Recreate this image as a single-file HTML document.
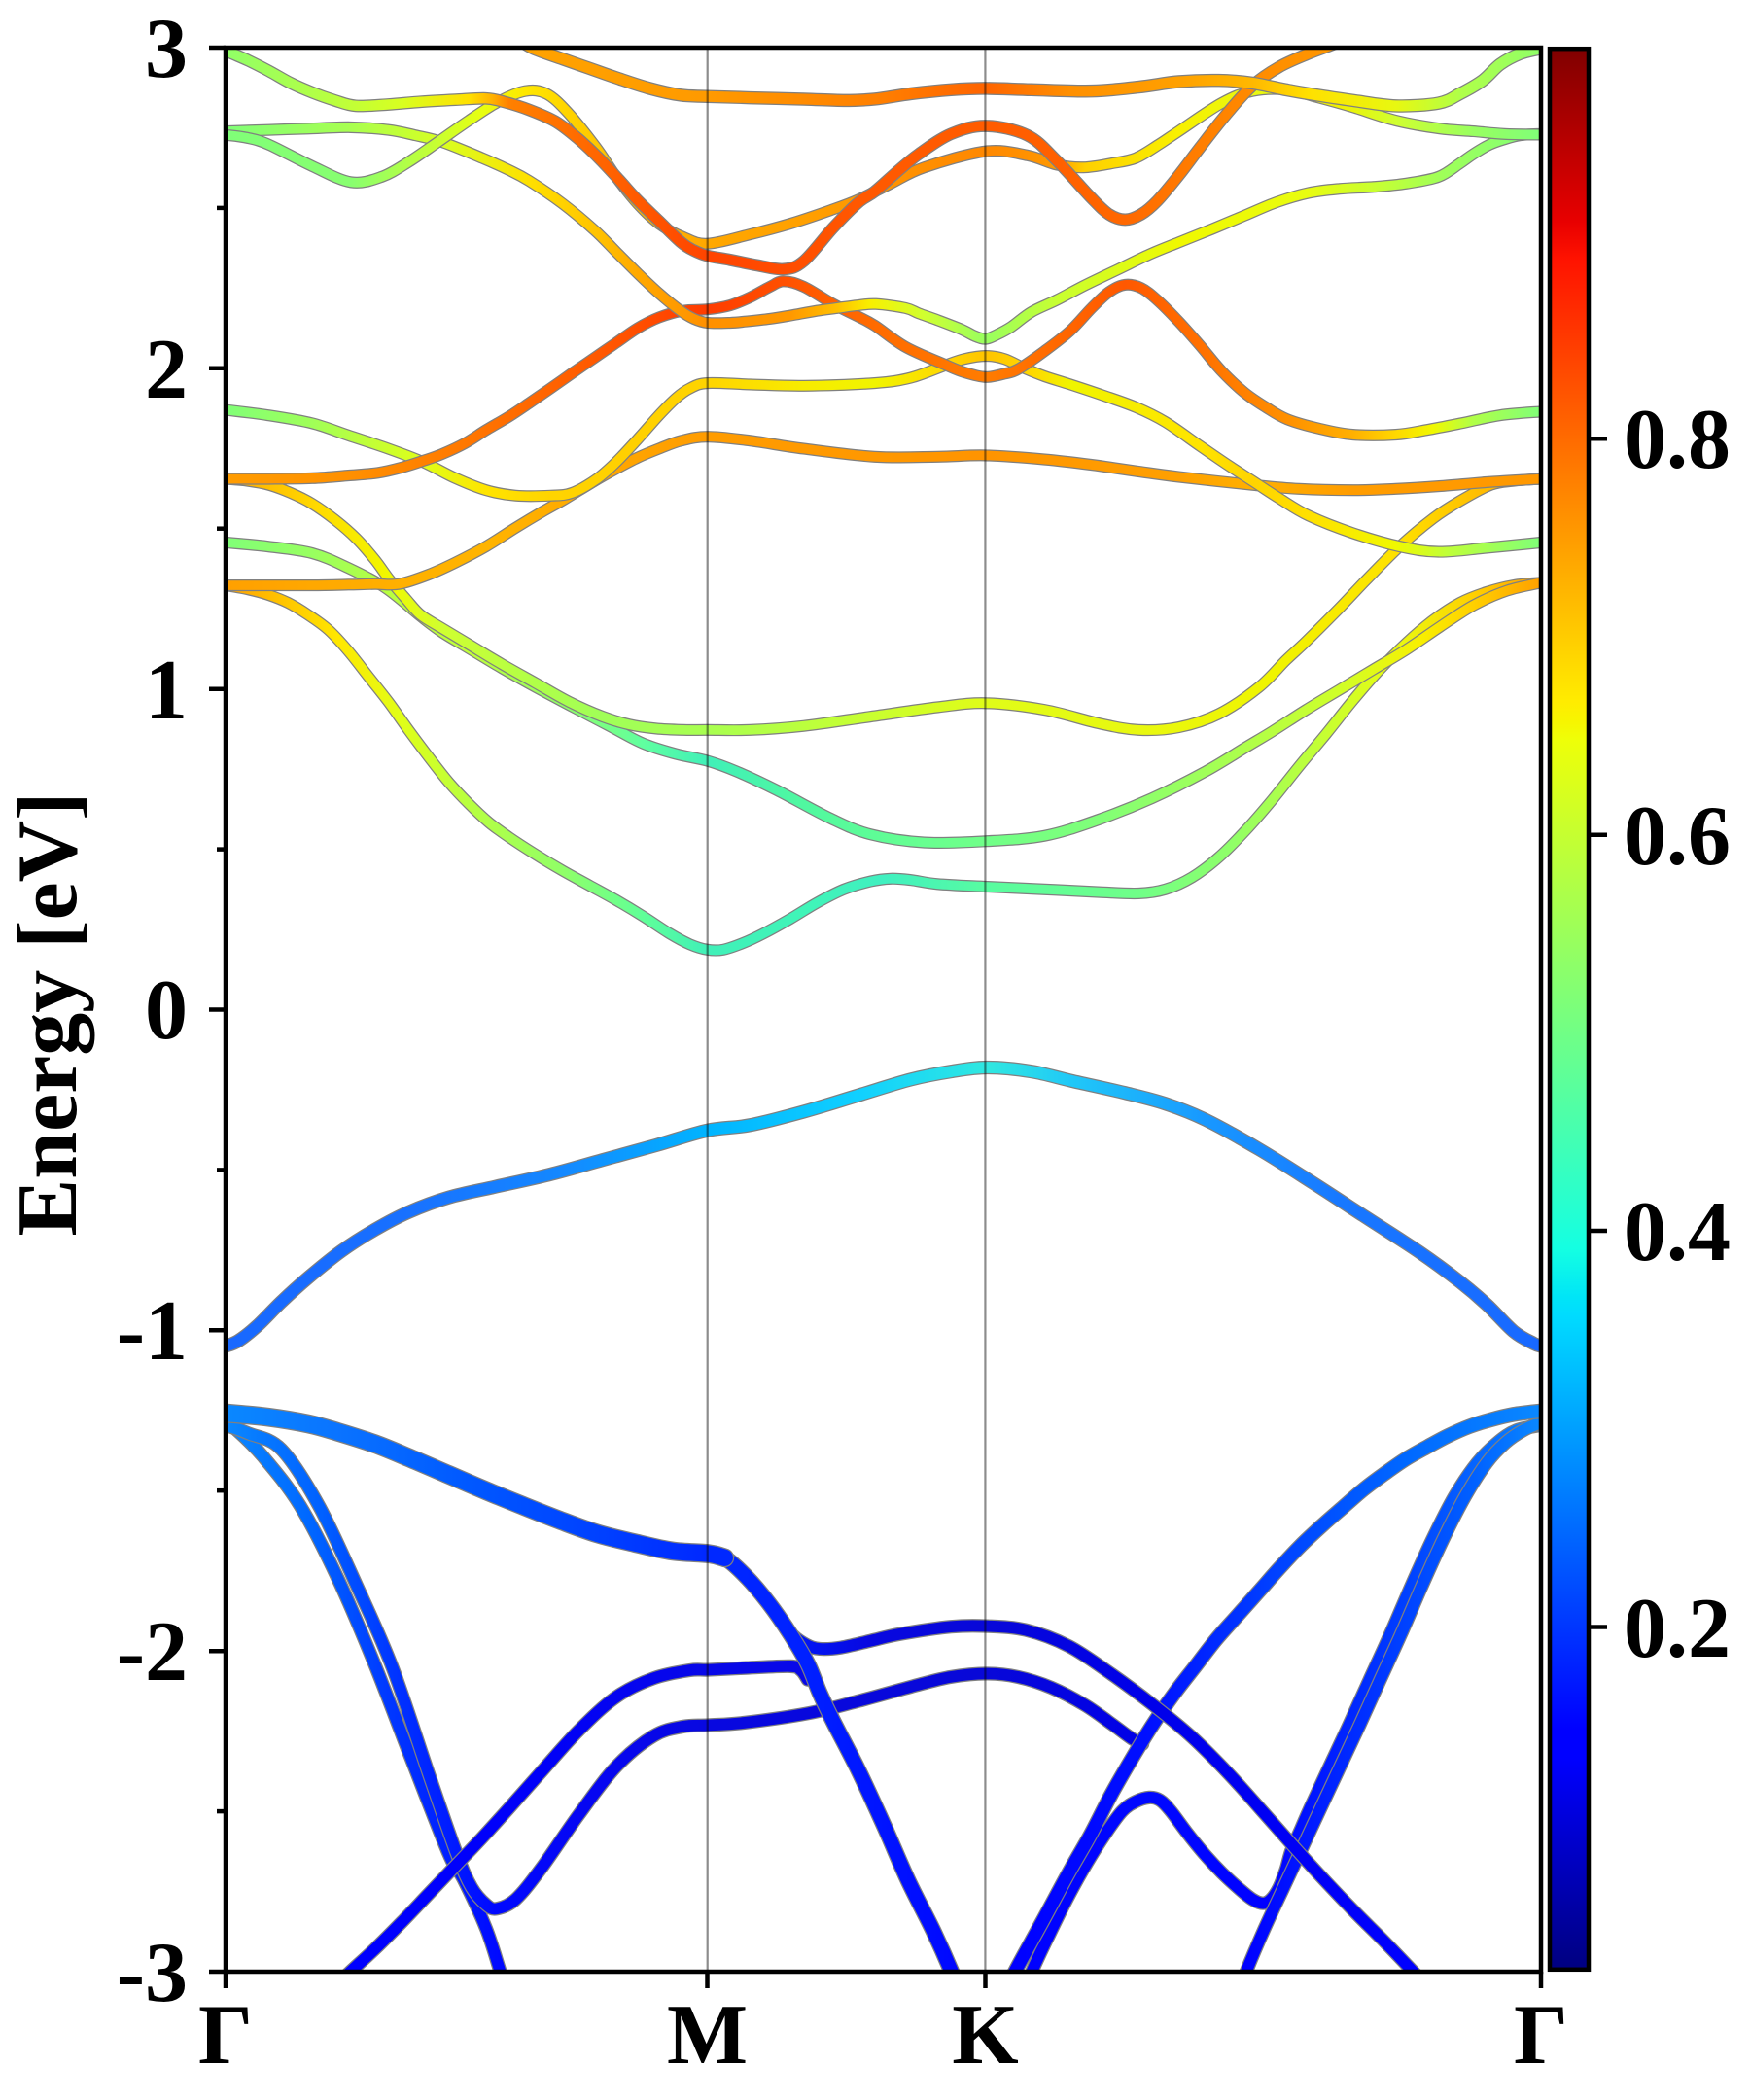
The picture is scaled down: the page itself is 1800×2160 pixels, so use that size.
<!DOCTYPE html>
<html><head><meta charset="utf-8">
<style>
html,body{margin:0;padding:0;background:#fff;}
svg{display:block;}
text{font-family:"Liberation Serif","Times New Roman",serif;font-weight:bold;fill:#000;}
</style></head>
<body>
<svg id="s" xmlns="http://www.w3.org/2000/svg" width="1800" height="2160" viewBox="0 0 1800 2160">
<defs id="defs">
<linearGradient id="jet" x1="0" y1="1" x2="0" y2="0">
<stop offset="0" stop-color="#000080"/>
<stop offset="0.11" stop-color="#0000ff"/>
<stop offset="0.125" stop-color="#0000ff"/>
<stop offset="0.34" stop-color="#00dbff"/>
<stop offset="0.35" stop-color="#00e5f7"/>
<stop offset="0.375" stop-color="#14ffe2"/>
<stop offset="0.64" stop-color="#eeff08"/>
<stop offset="0.65" stop-color="#f7f500"/>
<stop offset="0.66" stop-color="#ffec00"/>
<stop offset="0.89" stop-color="#ff1300"/>
<stop offset="0.91" stop-color="#e80000"/>
<stop offset="1" stop-color="#800000"/>
</linearGradient>
<clipPath id="cp"><rect x="168.4" y="35.6" width="982.1" height="1436.4"/></clipPath>
</defs>
<rect x="0" y="0" width="1800" height="2160" fill="#fff"/>
<g id="plot" transform="scale(1.3777)" clip-path="url(#cp)"></g>
<g transform="scale(1.3777)">
<line x1="528.2" y1="35.6" x2="528.2" y2="1472" stroke="#000" stroke-opacity="0.45" stroke-width="1.6"/>
<line x1="735.6" y1="35.6" x2="735.6" y2="1472" stroke="#000" stroke-opacity="0.45" stroke-width="1.6"/>
</g>
<rect x="232" y="49" width="1353" height="1979" fill="none" stroke="#000" stroke-width="4.5"/>
<g stroke="#000" stroke-width="4.5">
<line x1="215" y1="49" x2="232" y2="49"/>
<line x1="215" y1="378.8" x2="232" y2="378.8"/>
<line x1="215" y1="708.7" x2="232" y2="708.7"/>
<line x1="215" y1="1038.5" x2="232" y2="1038.5"/>
<line x1="215" y1="1368.3" x2="232" y2="1368.3"/>
<line x1="215" y1="1698.2" x2="232" y2="1698.2"/>
<line x1="215" y1="2028" x2="232" y2="2028"/>
<line x1="223" y1="213.9" x2="232" y2="213.9"/>
<line x1="223" y1="543.7" x2="232" y2="543.7"/>
<line x1="223" y1="873.6" x2="232" y2="873.6"/>
<line x1="223" y1="1203.4" x2="232" y2="1203.4"/>
<line x1="223" y1="1533.2" x2="232" y2="1533.2"/>
<line x1="223" y1="1863.1" x2="232" y2="1863.1"/>
<line x1="232" y1="2028" x2="232" y2="2045"/>
<line x1="727.5" y1="2028" x2="727.5" y2="2045"/>
<line x1="1013.5" y1="2028" x2="1013.5" y2="2045"/>
<line x1="1585" y1="2028" x2="1585" y2="2045"/>
</g>
<g font-size="88" text-anchor="end" font-family="Liberation Serif, Times New Roman, serif" font-weight="bold">
<text x="193" y="79">3</text>
<text x="193" y="409">2</text>
<text x="193" y="739">1</text>
<text x="193" y="1068">0</text>
<text x="193" y="1398">-1</text>
<text x="193" y="1728">-2</text>
<text x="193" y="2058">-3</text>
</g>
<g font-size="88" text-anchor="middle" font-family="Liberation Serif, Times New Roman, serif" font-weight="bold">
<text x="232" y="2122">Γ</text>
<text x="727.5" y="2122">M</text>
<text x="1013.5" y="2122">K</text>
<text x="1585" y="2122">Γ</text>
</g>
<text font-size="88" text-anchor="middle" font-family="Liberation Serif, Times New Roman, serif" font-weight="bold" transform="translate(78,1043) rotate(-90)">Energy [eV]</text>
<rect x="1594" y="50.2" width="40" height="1975.6" fill="url(#jet)" stroke="#000" stroke-width="4.5"/>
<g stroke="#000" stroke-width="4.5">
<line x1="1636" y1="451.3" x2="1653" y2="451.3"/>
<line x1="1636" y1="858.7" x2="1653" y2="858.7"/>
<line x1="1636" y1="1266" x2="1653" y2="1266"/>
<line x1="1636" y1="1673.5" x2="1653" y2="1673.5"/>
</g>
<g font-size="88" font-family="Liberation Serif, Times New Roman, serif" font-weight="bold">
<text x="1670" y="481">0.8</text>
<text x="1670" y="889">0.6</text>
<text x="1670" y="1296">0.4</text>
<text x="1670" y="1704">0.2</text>
</g>
</svg>
<script>
(function(){
var NS="http://www.w3.org/2000/svg";
var bands=[
/* La */
{w:8.5,p:[[168.4,1062],[175,1066],[196,1087],[224,1124],[252,1178],[279.5,1242],[307,1313],[335,1384],[346,1403],[363,1440],[374,1473.5],[380,1490]],
 c:[[168,'#0a88ff'],[230,'#0068ff'],[290,'#0038ff'],[374,'#0008ff']]},
/* Lb + lower M-K */
{w:8.5,p:[[168.4,1064],[185,1070],[210,1082],[238,1124],[266,1183],[293,1245],[321,1327],[341,1384],[352,1409],[363,1422],[371,1425],[385,1418],[404,1395],[432,1355],[460,1319],[488,1296],[510,1289],[529,1288],[557,1286],[604,1279],[641,1270],[685,1258],[710,1252],[736,1249.5],[760,1252],[785,1260],[810,1273],[830,1287],[845,1298],[853,1302]],
 c:[[168,'#0a88ff'],[240,'#0060ff'],[300,'#0030ff'],[370,'#0008ff'],[450,'#0606f0'],[528,'#0808e0'],[736,'#0808d8'],[853,'#0000e8']]},
/* Lc */
{w:8.5,p:[[252,1482],[260,1473.5],[280,1455],[300,1435],[320,1414],[340,1393],[360,1372],[380,1350],[404,1323],[432,1292],[460,1267],[488,1253],[515,1247],[529,1246.7],[557,1245.3],[590,1244],[598,1247],[603,1254]],
 c:[[260,'#0000ff'],[400,'#0000f8'],[528,'#0808e8'],[600,'#0808e8']]},
/* S2 */
{w:8.5,p:[[765,1490],[770,1473],[784,1443],[798,1415],[812,1390],[826,1368],[838,1352],[848,1345],[858,1342],[866,1344],[874,1352],[886,1368],[899,1384],[912,1398],[925,1410],[935,1418],[943,1421],[949,1418],[955,1409],[960,1396],[964,1382],[971,1366],[978,1350],[992,1320],[1007,1288],[1022,1255],[1038,1220],[1054,1183],[1070,1148],[1086,1117],[1103,1092],[1118,1077],[1132,1068],[1150.6,1064]],
 c:[[765,'#0000ff'],[858,'#0008ff'],[946,'#0000ff'],[1050,'#0040ff'],[1150,'#0a88ff']]},
/* L1 */
{w:8.5,p:[[924,1490],[930,1473],[944,1440],[958,1410],[972,1380],[986,1350],[1000,1320],[1015,1288],[1030,1255],[1046,1220],[1062,1183],[1078,1148],[1094,1117],[1110,1092],[1124,1077],[1137,1068],[1150.6,1062]],
 c:[[930,'#0000ff'],[1020,'#0030ff'],[1100,'#0060ff'],[1150,'#0a88ff']]},
/* S1 */
{w:9.5,p:[[750,1490],[757,1473.4],[778,1435],[798,1398],[814,1370],[829.5,1340],[845,1313],[861,1287],[877,1264],[892.5,1244],[908,1224],[924,1206],[940,1188],[955,1171],[971,1154],[987,1139],[1003,1125],[1018,1112],[1034,1100],[1050,1089],[1066,1080],[1081,1072],[1097,1065],[1113,1060],[1130,1056],[1150.6,1053.5]],
 c:[[757,'#0000ff'],[860,'#0010ff'],[950,'#0040ff'],[1050,'#0068ff'],[1150,'#0a88ff']]},
/* V1b */
{w:8.5,p:[[585,1212],[592,1221],[602,1228],[612,1231],[628,1230],[650,1225],[672,1220],[710,1214.5],[736,1214],[766,1217],[798,1229],[830,1250],[861,1273],[890,1297],[918,1325],[944,1354],[968,1381],[990,1405],[1012,1428],[1034,1450],[1056,1473],[1066,1484]],
 c:[[590,'#0018f8'],[650,'#0808e0'],[736,'#0808d8'],[850,'#0000e8'],[1060,'#0000ff']]},
/* V1a */
{w:10.5,p:[[529,1160],[541,1163],[557,1177],[574,1197],[590,1220],[603,1242],[612,1264],[622,1285],[641,1322],[660,1363],[678,1404],[697,1442],[711,1473.4],[715,1485]],
 c:[[529,'#0028ff'],[600,'#0020ff'],[711,'#0008ff']]},
/* V1 heavy */
{w:12.5,p:[[168.4,1055],[200,1058],[230,1063],[252,1069],[280,1078],[307,1089],[335,1101],[363,1113],[390,1124],[418,1135],[446,1145],[474,1152],[502,1158],[529,1160],[541,1163]],
 c:[[168,'#0a88ff'],[250,'#0a74ff'],[350,'#0058ff'],[450,'#0040ff'],[528,'#0028ff']]},
/* top valence band */
{w:8.5,p:[[168.4,1005],[178,1001],[192,990],[210,972],[230,954],[255,934],[280,918],[305,905],[335,894],[370,886],[410,877],[450,866],[490,855],[528,844],[560,840],[600,830],[640,818],[680,806],[710,800],[737,797],[770,800],[800,807],[840,816],[870,824],[900,836],[940,858],[980,883],[1020,909],[1060,935],[1090,957],[1110,974],[1130,994],[1145,1003],[1150.6,1005]],
 c:[[168,'#1868ff'],[300,'#1870ff'],[420,'#1488ff'],[528,'#00b4ff'],[640,'#10d0ff'],[737,'#30e8e0'],[800,'#20c8f8'],[900,'#1898ff'],[1000,'#1878ff'],[1150,'#1868ff']]},
/* conduction */
{w:7,p:[[168.4,437],[185,440],[200,444],[215,450],[230,459],[245,470],[260,486],[275,505],[290,524],[305,545],[320,565],[335,584],[350,600],[365,614],[380,625],[400,638],[420,650],[440,661],[460,672],[480,684],[500,697],[515,705],[528,709],[540,709],[555,704],[570,697],[590,686],[610,674],[630,664],[650,658],[665,656],[680,657],[700,660],[737,662],[780,664],[820,666],[850,667],[870,664],[890,655],[910,640],[930,620],[950,597],[970,572],[990,548],[1010,523],[1030,500],[1050,480],[1070,463],[1090,450],[1110,442],[1130,437],[1150.6,435]],
 c:[[168,'#ffa000'],[215,'#ffc800'],[253,'#ffe800'],[300,'#e0ff18'],[350,'#b8ff40'],[420,'#90ff68'],[480,'#60ff98'],[528,'#40f0b8'],[600,'#40f4b8'],[660,'#40f0c0'],[737,'#58fca0'],[850,'#70ff88'],[920,'#90ff68'],[980,'#c0ff38'],[1040,'#e8fc10'],[1100,'#ffd000'],[1150,'#ffa000']]},
{w:7,p:[[168.4,405],[200,408],[233,413],[260,424],[288,439],[314,460],[330,472],[350,484],[375,499],[400,513],[430,529],[455,542],[480,555],[505,563],[528,568],[550,576],[580,590],[620,611],[650,623],[690,629],[737,628],[780,624],[820,612],[860,596],[900,576],[930,558],[950,546],[975,530],[1000,515],[1025,500],[1050,485],[1075,468],[1100,452],[1125,441],[1150.6,435]],
 c:[[168,'#80ff78'],[233,'#98ff60'],[288,'#b8ff40'],[350,'#c0ff38'],[430,'#88ff70'],[480,'#60ffa0'],[528,'#40f0b8'],[600,'#50f8a0'],[690,'#68ff90'],[737,'#70ff88'],[820,'#80ff78'],[900,'#a0ff58'],[1000,'#d0ff28'],[1060,'#f8f000'],[1100,'#ffd000'],[1150,'#ffa000']]},
{w:7,p:[[168.4,357.5],[185,359],[200.8,362],[217,368],[233,376],[250,388],[266,402],[280,418],[291,433],[303,447],[314,459],[330,469],[350,481],[375,496],[400,510],[425,524],[450,535],[470,541],[490,544],[510,545],[528,545],[560,545],[600,542],[650,535],[700,528],[736,525],[780,530],[820,540],[850,545],[880,543],[910,533],[940,513],[960,493],[975,479],[1000,454],[1020,433],[1045,408],[1070,387],[1090,374],[1113,362],[1130,359],[1150.6,357.5]],
 c:[[168,'#ffa000'],[200,'#ffc000'],[240,'#ffdc00'],[291,'#f0f800'],[330,'#d0ff30'],[400,'#b0ff48'],[450,'#a0ff58'],[528,'#a8ff50'],[650,'#c8ff30'],[736,'#e0fc18'],[850,'#e8f810'],[950,'#f0f400'],[1045,'#ffe000'],[1100,'#ffc000'],[1150,'#ffa000']]},
{w:7,p:[[168.4,437],[200,437],[233,437],[260,436.5],[280,436],[298,436],[320,429],[340,420],[362.8,408],[385,394],[405,382],[421,373],[444,359],[460,350],[476,341.7],[492,335],[508.6,329],[528.4,326],[560,329],[600,335],[653,341],[700,341],[736,340],[780,343],[815,347],[850,352],[880,356],[935,362],[970,365],[1010,366],[1042,365],[1074.5,363],[1110,360],[1150.6,357.5]],
 c:[[168,'#ffa000'],[300,'#ffb000'],[363,'#ffb400'],[444,'#ffa800'],[528,'#ff9c00'],[653,'#ff9800'],[736,'#ff9400'],[880,'#ffa000'],[935,'#ffb000'],[1010,'#ff9c00'],[1150,'#ff9800']]},
{w:7,p:[[168.4,306],[200,310],[233,316],[260,325],[290,335],[316,345],[340,357],[363,366],[385,370],[411,370],[427,368],[445,358],[460,345],[476,328],[492,310],[505,297],[515,290],[528,286],[560,287],[600,288],[653,286],[680,282],[705,273],[720,268],[736,265.7],[750,268],[765,275],[780,281],[799,287],[823,295],[848,304],[870,315],[896,333],[915,346],[935,359],[955,372],[977,385],[1010,398],[1045,408],[1074,412],[1110,409],[1150.6,405]],
 c:[[168,'#80ff78'],[233,'#a0ff58'],[316,'#e0ff18'],[363,'#ffe400'],[411,'#ffd400'],[470,'#ffd000'],[528,'#ffd400'],[600,'#f8ec00'],[653,'#f0f400'],[705,'#ffd800'],[736,'#ffc400'],[770,'#ffd800'],[800,'#f0f400'],[896,'#ffe400'],[935,'#ffd400'],[977,'#ffe000'],[1042,'#f0f800'],[1080,'#c0ff38'],[1150,'#80ff78']]},
{w:7,p:[[168.4,357.5],[200,357.5],[233,357],[260,355],[282,353],[300,349],[316,344],[330,339],[347,331],[363,321],[380,311],[395,301],[411,290],[428,278],[444,267],[460,256],[476,245],[492,237],[510,232],[528,231],[545,228],[560,222],[575,214],[585,210],[600,214],[622,227],[640,236],[653,243],[676,259],[705,272],[720,278],[736,281.5],[750,279],[760,275.7],[780,262],[799,247],[815,230],[828,218],[840,212.6],[852,215],[864,224],[880,240],[896,258],[912,277],[929,293],[945,304],[961,313],[985,320],[1010,324.5],[1042,324.5],[1065,321],[1091,316],[1120,310],[1150.6,307.3]],
 c:[[168,'#ff9c00'],[260,'#ff9000'],[320,'#ff8000'],[395,'#ff6800'],[460,'#ff5400'],[528,'#ff3c00'],[585,'#ff5000'],[640,'#ff6800'],[700,'#ff7400'],[736,'#ff7c00'],[800,'#ff6400'],[840,'#ff5800'],[896,'#ff7000'],[961,'#ff9000'],[1010,'#ffb000'],[1042,'#ffd800'],[1070,'#f0f800'],[1100,'#b0ff48'],[1150,'#80ff78']]},
{w:7,p:[[168.4,98],[200,97],[230,96],[262,95],[290,97],[310,101],[330,106],[360,118],[380,127],[395,135],[420,152],[444,172],[460,188],[476,204],[492,219],[508,232],[518,238],[528.4,241],[545,241],[557,240],[575,238],[590,235.6],[610,232],[625,230],[640,228],[654,227],[676,230],[686,234],[700,239],[718,246],[728,251],[736,253],[744,250],[755,244],[770,233],[789,224],[810,213],[835,201],[858,190],[880,181],[905,171],[929,161],[953,151],[977,144],[1000,141],[1026,139.5],[1050,137],[1074,132],[1090,122],[1100,115],[1112,108],[1123,104],[1135,101],[1150.6,100]],
 c:[[168,'#80ff78'],[262,'#a8ff50'],[330,'#d8ff20'],[395,'#ffe000'],[444,'#ffc400'],[476,'#ffa800'],[528,'#ff9000'],[590,'#ff9800'],[625,'#ffc000'],[650,'#f8f000'],[690,'#d0ff30'],[736,'#98ff60'],[790,'#c8ff30'],[880,'#f0f800'],[977,'#e8fc10'],[1026,'#c8ff30'],[1075,'#a0ff58'],[1150,'#80ff78']]},
{w:7,p:[[168.4,100.7],[185,103],[200.8,108],[233,124],[262,136],[285,132],[305,121],[327,106],[350,90],[372,76],[392,68],[408,70],[424,84],[445,110],[460,132],[476,152],[492,167],[510,177],[528,182],[560,175],[590,167],[620,157],[641,149],[665,137],[690,125],[736,113],[767,116],[789,123],[809,125],[830,122],[848,118],[865,108],[880,98],[912,77],[935,68],[961,67],[985,73],[1010,80],[1042,90],[1075,96],[1100,98],[1123,100],[1150.6,100.5]],
 c:[[168,'#80ff78'],[262,'#88ff70'],[310,'#b8ff40'],[360,'#e8ff10'],[392,'#ffe800'],[430,'#ffd000'],[470,'#ffb800'],[528,'#ffa800'],[600,'#ffa000'],[680,'#ff9000'],[736,'#ff8800'],[789,'#ff9800'],[810,'#ffd000'],[880,'#f8f000'],[935,'#e8f810'],[1000,'#f0f000'],[1042,'#d0ff30'],[1100,'#98ff60'],[1150,'#80ff78']]},
{w:7.5,p:[[160,32],[168.4,37.6],[185,45],[200.8,53],[217,62],[233,69],[250,75],[265.6,79],[290,78],[314,76],[340,74.5],[362.8,73.5],[376,76],[395,82],[414.6,90.7],[431,103],[447,118],[462,134],[476,149.5],[492,165],[508.6,181],[518,187],[528.4,191],[545,194],[565,198],[585,201],[600,195],[622,170],[641,151],[653,143],[670,128],[686,115],[710,100],[736,94],[767,101],[789,120],[815,148],[828,160],[840,164],[852,160],[864,150],[880,131],[896,110],[915,86],[935,64],[955,50],[977,40],[993,34],[1005,29]],
 c:[[168,'#90ff68'],[233,'#b0ff48'],[300,'#d8ff20'],[350,'#ffe000'],[368,'#ffb000'],[380,'#ff8000'],[430,'#ff6c00'],[480,'#ff5800'],[528,'#ff4400'],[585,'#ff4c00'],[640,'#ff5800'],[736,'#ff5c00'],[790,'#ff6000'],[840,'#ff6800'],[890,'#ff7c00'],[940,'#ff8c00'],[1000,'#ff9800']]},
{w:8,p:[[385,28],[398,36],[420,44],[440,51],[460,58],[485,66],[508,71],[528,72],[560,73],[600,74],[630,75],[653,74],[680,70],[710,67],[736,66],[770,67],[815,68],[850,65],[880,61],[910,60],[935,62],[960,67],[977,70],[1010,75],[1042,79],[1074,77],[1090,70],[1107,60],[1120,48],[1135,40],[1150.6,36],[1160,33]],
 c:[[398,'#ffa200'],[528,'#ff9a00'],[653,'#ff8000'],[736,'#ff6400'],[800,'#ff9000'],[880,'#ffa000'],[935,'#ffb800'],[977,'#ffe000'],[1042,'#e8f810'],[1090,'#b0ff48'],[1150,'#90ff68']]}
];
function pathD(p){
  var d='M'+p[0][0]+','+p[0][1];
  for(var i=0;i<p.length-1;i++){
    var p0=p[i>0?i-1:i],p1=p[i],p2=p[i+1],p3=p[i+2<p.length?i+2:i+1];
    var c1x=p1[0]+(p2[0]-p0[0])/6,c1y=p1[1]+(p2[1]-p0[1])/6;
    var c2x=p2[0]-(p3[0]-p1[0])/6,c2y=p2[1]-(p3[1]-p1[1])/6;
    d+=' C'+c1x.toFixed(2)+','+c1y.toFixed(2)+' '+c2x.toFixed(2)+','+c2y.toFixed(2)+' '+p2[0]+','+p2[1];
  }
  return d;
}
var defs=document.getElementById('defs');
var g=document.getElementById('plot');
bands.forEach(function(b,i){
  var lg=document.createElementNS(NS,'linearGradient');
  lg.setAttribute('id','bg'+i);
  lg.setAttribute('gradientUnits','userSpaceOnUse');
  lg.setAttribute('x1','160');lg.setAttribute('y1','0');
  lg.setAttribute('x2','1160');lg.setAttribute('y2','0');
  b.c.forEach(function(s){
    var st=document.createElementNS(NS,'stop');
    var o=(s[0]-160)/1000; if(o<0)o=0; if(o>1)o=1;
    st.setAttribute('offset',o.toFixed(4));
    st.setAttribute('stop-color',s[1]);
    lg.appendChild(st);
  });
  defs.appendChild(lg);
  var d=pathD(b.p);
  var o=document.createElementNS(NS,'path');
  o.setAttribute('d',d);o.setAttribute('fill','none');
  o.setAttribute('stroke','#808080');o.setAttribute('stroke-width',(b.w+1.8).toString());
  o.setAttribute('stroke-linecap','round');o.setAttribute('stroke-linejoin','round');
  g.appendChild(o);
  var c=document.createElementNS(NS,'path');
  c.setAttribute('d',d);c.setAttribute('fill','none');
  c.setAttribute('stroke','url(#bg'+i+')');c.setAttribute('stroke-width',b.w.toString());
  c.setAttribute('stroke-linecap','round');c.setAttribute('stroke-linejoin','round');
  g.appendChild(c);
});
})();
</script>
</body></html>
